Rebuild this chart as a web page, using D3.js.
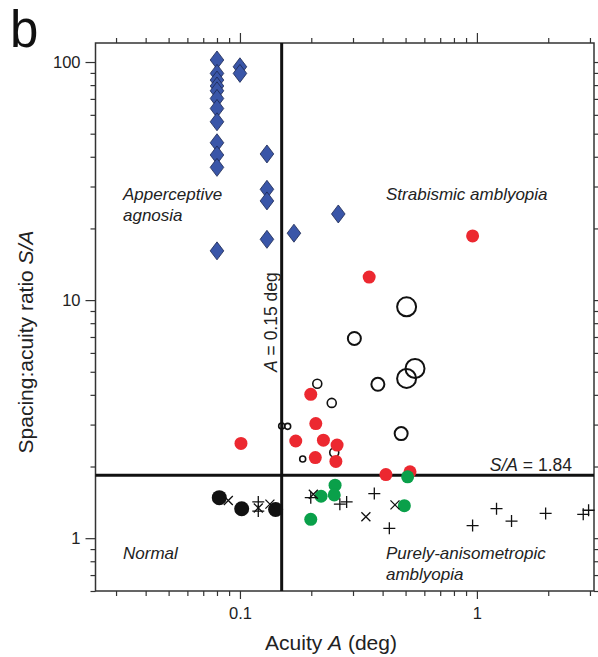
<!DOCTYPE html>
<html>
<head>
<meta charset="utf-8">
<script src="https://cdn.jsdelivr.net/npm/d3@7"></script>
<style>
  body { margin: 0; background: #fff; }
  svg { font-family: "Liberation Sans", Arial, sans-serif; }
</style>
</head>
<body>
<svg id="chart" width="598" height="657"></svg>
<script>
// acuity A (deg), spacing:acuity ratio S/A
var agnosiaA = [0.08, 0.08, 0.08, 0.08, 0.08, 0.08, 0.08, 0.08, 0.08, 0.08, 0.08, 0.08,
                0.1, 0.1, 0.13, 0.13, 0.13, 0.13, 0.169, 0.26];
var agnosiaSA = [102, 89.6, 84, 79.3, 75.7, 70.3, 63.8, 56.1, 45.8, 40.7, 36.1, 16.1,
                 95.5, 89.6, 41.1, 29.2, 26.1, 18.0, 19.1, 23.0];

var strabA = [0.959, 0.351, 0.101, 0.199, 0.209, 0.172, 0.225, 0.257, 0.208, 0.254, 0.413, 0.522];
var strabSA = [18.6, 12.5, 2.50, 4.02, 3.03, 2.56, 2.58, 2.46, 2.18, 2.10, 1.85, 1.90];

var openA = [0.505, 0.548, 0.505, 0.304, 0.382, 0.479, 0.212, 0.244, 0.150, 0.159, 0.184, 0.250];
var openSA = [9.37, 5.16, 4.69, 6.90, 4.43, 2.75, 4.45, 3.70, 2.96, 2.95, 2.15, 2.29];
var openN = [4, 4, 4, 3, 3, 3, 2, 2, 1, 1, 1, 2];   // circle size class

var greenA = [0.252, 0.25, 0.220, 0.199, 0.510, 0.494];
var greenSA = [1.67, 1.52, 1.50, 1.20, 1.81, 1.37];

var normalA = [0.0818, 0.1017, 0.1414];
var normalSA = [1.48, 1.33, 1.32];

var plusA = [0.1195, 0.1195, 0.199, 0.264, 0.282, 0.369, 0.427, 0.959, 1.21, 1.40, 1.95, 2.81, 2.96];
var plusSA = [1.42, 1.30, 1.48, 1.39, 1.42, 1.54, 1.10, 1.13, 1.33, 1.18, 1.27, 1.26, 1.31];

var crossA = [0.0893, 0.1195, 0.1338, 0.204, 0.340, 0.451];
var crossSA = [1.44, 1.34, 1.39, 1.53, 1.23, 1.38];

var critA = 0.15, critSA = 1.84;

var xMajor = [0.1, 1];
var xMinor = [0.03, 0.04, 0.05, 0.06, 0.07, 0.08, 0.09, 0.2, 0.3, 0.4, 0.5, 0.6, 0.7, 0.8, 0.9, 2, 3];
var yMajor = [1, 10, 100];
var yMinor = [0.6, 0.7, 0.8, 0.9, 2, 3, 4, 5, 6, 7, 8, 9, 20, 30, 40, 50, 60, 70, 80, 90];

var zip = (a, b) => a.map((v, i) => [v, b[i]]);

var svg = d3.select("#chart");
var L = 95.5, R = 594, T = 43, B = 591;

var x = d3.scaleLog().domain([0.02457, 3.12]).range([L, R]);
var y = d3.scaleLog().domain([0.6, 120.2]).range([B, T]);
var rOpen = d3.scaleOrdinal().domain([1, 2, 3, 4]).range([3, 4.5, 6.5, 9.5]);

var fmt = d => d >= 1 ? d3.format("d")(d) : String(d);

// axes (ticks only, frame drawn separately)
function ticks(axis, g) {
    g.call(axis);
    g.select(".domain").remove();
    g.selectAll(".tick line").attr("stroke", "#333").attr("stroke-width", 1.2);
    g.selectAll("text").attr("font-size", 16.5).attr("fill", "#222");
}
svg.append("g").attr("transform", `translate(0,${B})`)
    .call(g => ticks(d3.axisBottom(x).tickValues(xMajor).tickSize(8).tickPadding(8).tickFormat(fmt), g));
svg.append("g").attr("transform", `translate(0,${B})`)
    .call(g => ticks(d3.axisBottom(x).tickValues(xMinor).tickSize(5).tickFormat(""), g));
svg.append("g").attr("transform", `translate(0,${T})`)
    .call(g => ticks(d3.axisTop(x).tickValues(xMajor).tickSize(10).tickFormat(""), g));
svg.append("g").attr("transform", `translate(0,${T})`)
    .call(g => ticks(d3.axisTop(x).tickValues(xMinor).tickSize(5).tickFormat(""), g));
svg.append("g").attr("transform", `translate(${L},0)`)
    .call(g => ticks(d3.axisLeft(y).tickValues(yMajor).tickSize(10).tickPadding(5).tickFormat(fmt), g));
svg.append("g").attr("transform", `translate(${L},0)`)
    .call(g => ticks(d3.axisLeft(y).tickValues(yMinor).tickSize(5).tickFormat(""), g));
svg.append("g").attr("transform", `translate(${R},0)`)
    .call(g => ticks(d3.axisRight(y).tickValues(yMajor).tickSize(5).tickFormat(""), g));
svg.append("g").attr("transform", `translate(${R},0)`)
    .call(g => ticks(d3.axisRight(y).tickValues(yMinor).tickSize(4).tickFormat(""), g));

svg.append("rect").attr("x", L).attr("y", T).attr("width", R - L).attr("height", B - T)
    .attr("fill", "none").attr("stroke", "#333").attr("stroke-width", 1.5);

// criterion lines
svg.append("line").attr("x1", x(critA)).attr("x2", x(critA)).attr("y1", T).attr("y2", B)
    .attr("stroke", "#111").attr("stroke-width", 3);
svg.append("line").attr("x1", L).attr("x2", R).attr("y1", y(critSA)).attr("y2", y(critSA))
    .attr("stroke", "#111").attr("stroke-width", 3);

// labels
var lab = svg.append("g").attr("font-size", 17).attr("font-style", "italic").attr("fill", "#222");
lab.append("text").attr("x", 123).attr("y", 200).text("Apperceptive");
lab.append("text").attr("x", 123).attr("y", 221).text("agnosia");
lab.append("text").attr("x", 386).attr("y", 200).text("Strabismic amblyopia");
lab.append("text").attr("x", 123).attr("y", 559).text("Normal");
lab.append("text").attr("x", 386).attr("y", 559).text("Purely-anisometropic");
lab.append("text").attr("x", 386).attr("y", 580).text("amblyopia");

var sa = svg.append("text").attr("x", 572).attr("y", 471).attr("text-anchor", "end")
    .attr("font-size", 17.5).attr("fill", "#222");
sa.append("tspan").attr("font-style", "italic").text("S/A");
sa.append("tspan").text(" = " + critSA);

var ta = svg.append("text").attr("transform", `translate(277,372) rotate(-90)`)
    .attr("font-size", 17.5).attr("fill", "#222");
ta.append("tspan").attr("font-style", "italic").text("A");
ta.append("tspan").text(" = " + critA + " deg");

// markers
svg.append("g").selectAll("path").data(zip(agnosiaA, agnosiaSA)).join("path")
    .attr("d", d => { var cx = x(d[0]), cy = y(d[1]);
        return `M${cx},${cy - 9}L${cx + 6.8},${cy}L${cx},${cy + 9}L${cx - 6.8},${cy}Z`; })
    .attr("fill", "#3a56a8").attr("stroke", "#1c2750").attr("stroke-width", 0.8);

svg.append("g").selectAll("circle").data(openA.map((a, i) => [a, openSA[i], openN[i]])).join("circle")
    .attr("cx", d => x(d[0])).attr("cy", d => y(d[1])).attr("r", d => rOpen(d[2]))
    .attr("fill", "none").attr("stroke", "#111").attr("stroke-width", d => d[2] > 2 ? 2 : 1.6);

svg.append("g").selectAll("circle").data(zip(strabA, strabSA)).join("circle")
    .attr("cx", d => x(d[0])).attr("cy", d => y(d[1])).attr("r", 6.5)
    .attr("fill", "#ec2830");

svg.append("g").selectAll("circle").data(zip(greenA, greenSA)).join("circle")
    .attr("cx", d => x(d[0])).attr("cy", d => y(d[1])).attr("r", 6.5)
    .attr("fill", "#0aa04a");

svg.append("g").selectAll("circle").data(zip(normalA, normalSA)).join("circle")
    .attr("cx", d => x(d[0])).attr("cy", d => y(d[1])).attr("r", 7.5)
    .attr("fill", "#111");

svg.append("g").selectAll("path").data(zip(plusA, plusSA)).join("path")
    .attr("d", d => { var cx = x(d[0]), cy = y(d[1]);
        return `M${cx - 6},${cy}H${cx + 6}M${cx},${cy - 6}V${cy + 6}`; })
    .attr("stroke", "#111").attr("stroke-width", 1.3).attr("fill", "none");

svg.append("g").selectAll("path").data(zip(crossA, crossSA)).join("path")
    .attr("d", d => { var cx = x(d[0]), cy = y(d[1]);
        return `M${cx - 4.5},${cy - 4.5}L${cx + 4.5},${cy + 4.5}M${cx - 4.5},${cy + 4.5}L${cx + 4.5},${cy - 4.5}`; })
    .attr("stroke", "#111").attr("stroke-width", 1.3).attr("fill", "none");

// axis titles
var xt = svg.append("text").attr("x", 331).attr("y", 650).attr("text-anchor", "middle")
    .attr("font-size", 21).attr("fill", "#222");
xt.append("tspan").text("Acuity ");
xt.append("tspan").attr("font-style", "italic").text("A");
xt.append("tspan").text(" (deg)");

var yt = svg.append("text").attr("transform", "translate(33,342) rotate(-90)").attr("text-anchor", "middle")
    .attr("font-size", 21).attr("fill", "#222");
yt.append("tspan").text("Spacing:acuity ratio ");
yt.append("tspan").attr("font-style", "italic").text("S/A");

svg.append("text").attr("x", 10).attr("y", 47).attr("font-size", 51).attr("fill", "#111").text("b");
</script>
</body>
</html>
